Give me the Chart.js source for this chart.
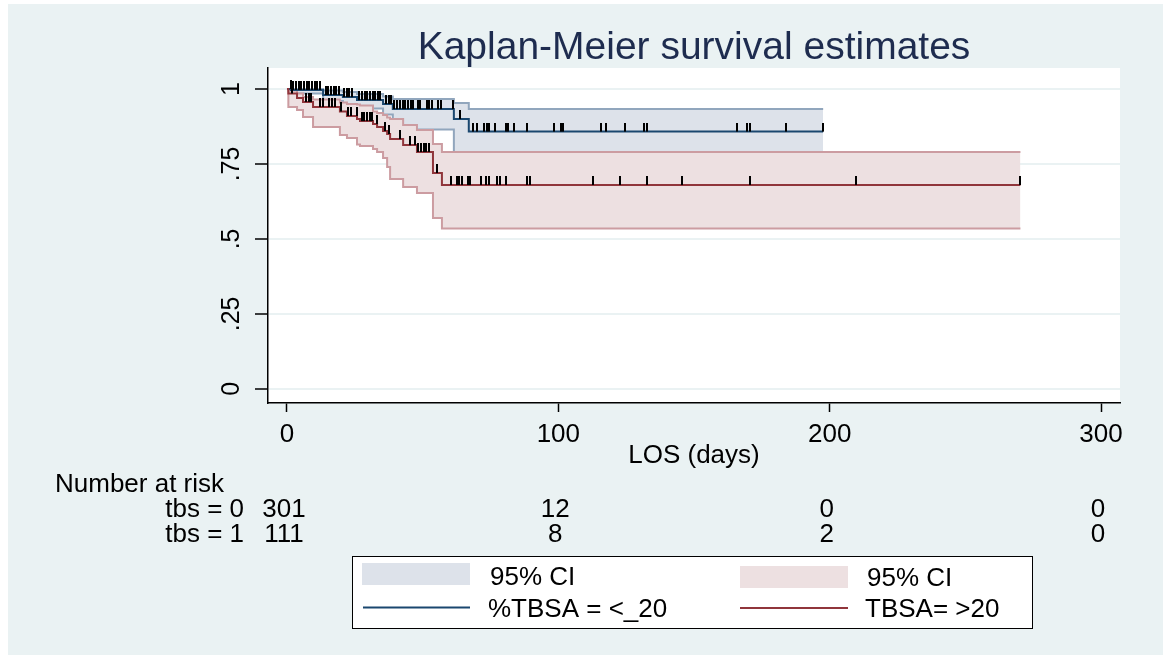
<!DOCTYPE html>
<html>
<head>
<meta charset="utf-8">
<title>Kaplan-Meier survival estimates</title>
<script src="https://cdn.jsdelivr.net/npm/chart.js@4.4.1/dist/chart.umd.min.js"></script>
<style>
  html, body { margin: 0; padding: 0; background: #fff; }
  canvas { display: block; }
</style>
</head>
<body>
<canvas id="km" width="1163" height="655"></canvas>
<script>
"use strict";

var FONT = '"Liberation Sans", Arial, sans-serif';

// tbs = 0  (%TBSA = <_20)
var lowTimes = [0, 1.5, 13.3, 20.6, 25.8, 35.4, 39, 61.5, 67, 197.6];
var lowSurv  = [1, .997, .98, .973, .963, .95, .933, .90, .858, .858];
var lowUpper = [1, 1, .995, .99, .983, .975, .967, .953, .933, .933];
var lowLower = [1, .985, .96, .95, .935, .915, .865, .79, .775, .775];
var lowCensored = [1.4, 2.3, 3.3, 4.3, 5.3, 6.3, 7.3, 8.2, 9.2, 10.2, 11.2, 12.2,
  14.3, 15.2, 16.2, 17.2, 18.2, 19.2, 21, 22, 23, 24, 26.7, 27.6, 28.6, 29.6, 30.6,
  31.6, 32.5, 33.5, 34.4, 36.5, 37.5, 38.4, 39.4, 40.4, 41.7, 42.6, 43.6, 44.6, 45.6,
  46.6, 48.4, 49, 51.5, 52.5, 53.4, 55.8, 56.8, 61.3, 63.8, 68.4, 70.2, 72.6, 73.6,
  74.5, 76.7, 80.7, 81.5, 83.6, 88.5, 98.5, 100.9, 101.6, 115.8, 117.5, 124.6,
  131.7, 132.6, 165.8, 169.7, 170.7, 183.8, 197.6];

// tbs = 1  (TBSA= >20)
var highTimes = [0, 0.5, 3.7, 5.9, 9.6, 19.5, 22.1, 25.8, 26.9, 31.7, 33.2, 35.4,
  36.9, 38, 42.8, 47.9, 53.8, 57.1, 270.3];
var highSurv  = [1, .985, .97, .957, .94, .925, .91, .90, .893, .883, .873, .86,
  .85, .833, .813, .79, .72, .68, .68];
var highUpper = [1, .995, .985, .973, .965, .955, .95, .948, .945, .925, .92, .913,
  .905, .90, .88, .863, .817, .79, .79];
var highLower = [1, .94, .93, .907, .873, .847, .837, .815, .81, .80, .79, .77,
  .74, .70, .673, .653, .57, .535, .535];
var highCensored = [1.7, 7.0, 8.0, 9.0, 12.2, 13.4, 15.6, 16.6, 17.6, 19.9, 22.6,
  23.6, 25.7, 27.5, 28.5, 29.5, 30.5, 31.4, 33.1, 36.1, 37.5, 41.7, 45.3, 47.2,
  48.4, 49.4, 50.4, 51.3, 52.3, 55.2, 60.5, 62.5, 63.4, 64.4, 66.6, 67.5, 71.4,
  73.3, 74.3, 77.5, 78.5, 80.6, 88.6, 89.6, 112.7, 122.7, 132.6, 145.7, 170.7,
  209.7, 270.3];

// number at risk table
var riskTimes = [0, 100, 200, 300];
var riskLabels = ["tbs = 0", "tbs = 1"];
var riskLow  = [301, 12, 0, 0];
var riskHigh = [111, 8, 2, 0];

var xTicks = [0, 100, 200, 300];
var yTicks = [0, .25, .5, .75, 1];

var lowLine = "#1a476f", lowFill = "#dde2ea", lowEdge = "#91a6bd";
var highLine = "#90353b", highFill = "#ede0e1", highEdge = "#cc9ca1";

function steps(times, vals) {
  return times.map(function(t, i) { return {x: t, y: vals[i]}; });
}

function survAt(times, surv, t) {
  var s = surv[0];
  for (var i = 0; i < times.length; i++) {
    if (times[i] <= t) s = surv[i];
  }
  return s;
}

function censorPoints(list, times, surv) {
  return list.map(function(t) { return {x: t, y: survAt(times, surv, t)}; });
}

// small vertical censoring mark, sitting on top of the curve
var tickMark = document.createElement("canvas");
tickMark.width = 2;
tickMark.height = 18;
(function() {
  var c = tickMark.getContext("2d");
  c.fillStyle = "#000";
  c.fillRect(0, 0, 2, 9);
})();

var kmDecor = {
  id: "kmDecor",
  beforeDraw: function(chart) {
    var ctx = chart.ctx, a = chart.chartArea;
    ctx.save();
    ctx.fillStyle = "#fff";
    ctx.fillRect(0, 0, chart.width, chart.height);
    ctx.fillStyle = "#eaf2f3";
    ctx.fillRect(8, 4, chart.width - 8, chart.height - 4);
    ctx.fillStyle = "#fff";
    ctx.fillRect(a.left, a.top, a.right - a.left, a.bottom - a.top);
    ctx.restore();
  },
  afterDraw: function(chart) {
    var ctx = chart.ctx, xs = chart.scales.x;
    ctx.save();
    ctx.font = "26px " + FONT;
    ctx.fillStyle = "#000";
    ctx.textBaseline = "alphabetic";
    ctx.textAlign = "left";
    ctx.fillText("Number at risk", 55, 492);
    [riskLow, riskHigh].forEach(function(row, r) {
      var y = 517 + r * 25;
      ctx.textAlign = "right";
      ctx.fillText(riskLabels[r], 244, y);
      ctx.textAlign = "center";
      row.forEach(function(n, i) {
        ctx.fillText(String(n), xs.getPixelForValue(riskTimes[i]) - 3, y);
      });
    });

    // legend
    ctx.fillStyle = "#fff";
    ctx.fillRect(352, 556, 681, 73);
    ctx.strokeStyle = "#000";
    ctx.lineWidth = 1;
    ctx.strokeRect(352.5, 556.5, 680, 72);

    ctx.fillStyle = lowFill;
    ctx.fillRect(362, 563, 108, 22);
    ctx.fillStyle = highFill;
    ctx.fillRect(740, 566, 108, 22);

    ctx.lineWidth = 2;
    ctx.strokeStyle = lowLine;
    ctx.beginPath(); ctx.moveTo(363, 607.5); ctx.lineTo(470, 607.5); ctx.stroke();
    ctx.strokeStyle = highLine;
    ctx.beginPath(); ctx.moveTo(740, 608); ctx.lineTo(848, 608); ctx.stroke();

    ctx.fillStyle = "#000";
    ctx.textAlign = "left";
    ctx.fillText("95% CI", 490, 585);
    ctx.fillText("95% CI", 867, 586);
    ctx.fillText("%TBSA = <_20", 488, 617);
    ctx.fillText("TBSA= >20", 865, 617);
    ctx.restore();
  }
};

var lineBase = {
  stepped: true,
  pointRadius: 0,
  pointHoverRadius: 0,
  borderWidth: 2,
  fill: false
};

var chart = new Chart("km", {
  type: "line",
  data: {
    datasets: [
      {
        label: "censored tbs=1",
        data: censorPoints(highCensored, highTimes, highSurv),
        showLine: false,
        pointStyle: tickMark,
        pointRadius: 3,
        order: 0
      },
      {
        label: "censored tbs=0",
        data: censorPoints(lowCensored, lowTimes, lowSurv),
        showLine: false,
        pointStyle: tickMark,
        pointRadius: 3,
        order: 0
      },
      Object.assign({}, lineBase, {
        label: "TBSA= >20",
        data: steps(highTimes, highSurv),
        borderColor: highLine,
        order: 1
      }),
      Object.assign({}, lineBase, {
        label: "%TBSA = <_20",
        data: steps(lowTimes, lowSurv),
        borderColor: lowLine,
        order: 2
      }),
      Object.assign({}, lineBase, {
        label: "95% CI",
        data: steps(highTimes, highUpper),
        borderColor: highEdge,
        backgroundColor: highFill,
        fill: "+1",
        order: 3
      }),
      Object.assign({}, lineBase, {
        label: "95% CI lower",
        data: steps(highTimes, highLower),
        borderColor: highEdge,
        order: 2.9
      }),
      Object.assign({}, lineBase, {
        label: "95% CI",
        data: steps(lowTimes, lowUpper),
        borderColor: lowEdge,
        backgroundColor: lowFill,
        fill: "+1",
        order: 4
      }),
      Object.assign({}, lineBase, {
        label: "95% CI lower",
        data: steps(lowTimes, lowLower),
        borderColor: lowEdge,
        order: 3.9
      })
    ]
  },
  options: {
    responsive: false,
    animation: false,
    devicePixelRatio: 1,
    events: [],
    layout: {
      padding: {left: 208, right: 43, top: 0, bottom: 177}
    },
    plugins: {
      legend: {display: false},
      tooltip: {enabled: false},
      title: {
        display: true,
        text: "Kaplan-Meier survival estimates",
        color: "#1e2c4f",
        fullSize: false,
        font: {family: FONT, size: 39, weight: "normal", lineHeight: 1},
        padding: {top: 29, bottom: 0}
      }
    },
    scales: {
      x: {
        type: "linear",
        min: -7,
        max: 307,
        afterBuildTicks: function(s) {
          s.ticks = xTicks.map(function(v) { return {value: v}; });
        },
        afterFit: function(s) { s.height = 75; },
        grid: {
          drawOnChartArea: false,
          drawTicks: true,
          tickLength: 9,
          tickColor: "#000",
          tickWidth: 1.5
        },
        border: {display: true, color: "#000", width: 1.5},
        ticks: {
          color: "#000",
          padding: 7,
          maxRotation: 0,
          font: {family: FONT, size: 26},
          callback: function(v) { return String(v); }
        },
        title: {
          display: true,
          text: "LOS (days)",
          color: "#000",
          font: {family: FONT, size: 26},
          padding: {top: 4, bottom: 7}
        }
      },
      y: {
        type: "linear",
        min: -0.047,
        max: 1.07,
        afterBuildTicks: function(s) {
          s.ticks = yTicks.map(function(v) { return {value: v}; });
        },
        afterFit: function(s) { s.width = 60; },
        grid: {
          color: "#eaf2f3",
          lineWidth: 2,
          drawTicks: true,
          tickLength: 13,
          tickColor: "#000",
          tickWidth: 1.5
        },
        border: {display: true, color: "#000", width: 1.5},
        ticks: {
          color: "#000",
          padding: 6,
          minRotation: 90,
          maxRotation: 90,
          crossAlign: "center",
          font: {family: FONT, size: 25},
          callback: function(v) {
            if (v === 0) return "0";
            if (v === 1) return "1";
            return String(v).replace(/^0/, "");
          }
        }
      }
    }
  },
  plugins: [kmDecor]
});
</script>
</body>
</html>
